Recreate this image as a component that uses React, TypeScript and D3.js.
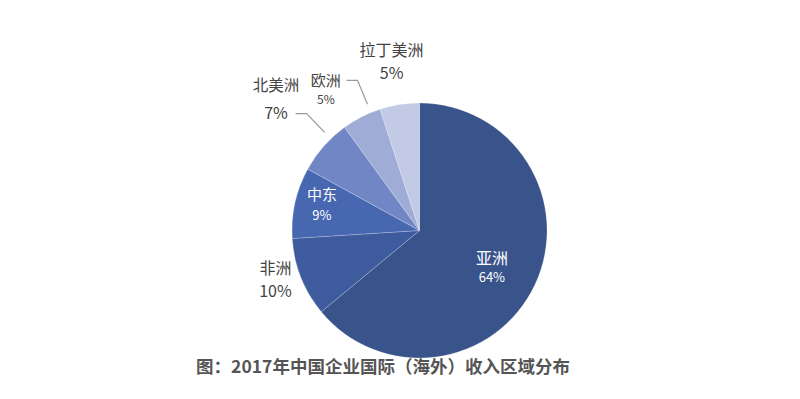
import * as d3 from 'd3';
import React from 'react';

const regions = ['亚洲', '非洲', '中东', '北美洲', '欧洲', '拉丁美洲'];
const shares = [64, 10, 9, 7, 5, 5];
const colors = ['#39538b', '#3e5b9d', '#4767b1', '#7187c5', '#9facd6', '#c3cae6'];

const width = 800;
const height = 399;
const cx = 419.5;
const cy = 230.5;
const radius = 127.5;

// label placement per slice: radius along the mid angle, nudge, fonts
const labelLayout: Record<string, any> = {
  亚洲: { r: 80, dx: 0, dy: 2, fill: '#fff', nameSize: 16, valSize: 13, gap: 20 },
  非洲: { r: 155, dx: 0, dy: -9, fill: '#444', nameSize: 16, valSize: 16, gap: 23 },
  中东: { r: 100, dx: 0, dy: -5, fill: '#fff', nameSize: 15, valSize: 13, gap: 21 },
  北美洲: { r: 190, dx: -1, dy: -7, fill: '#444', nameSize: 15.5, valSize: 16, gap: 28 },
  欧洲: { r: 160, dx: -21, dy: 1, fill: '#444', nameSize: 15, valSize: 12, gap: 19 },
  拉丁美洲: { r: 172, dx: -1, dy: 0, fill: '#444', nameSize: 16, valSize: 16, gap: 23 },
};

const leaders = ['北美洲', '欧洲'];

export default function App() {
  const data = regions.map((name, i) => ({ name, value: shares[i], color: colors[i] }));
  const pie = d3.pie<any>().sort(null).value((d) => d.value);
  const arcs = pie(data);
  const arc = d3.arc<any>().innerRadius(0).outerRadius(radius);

  const polar = (a: number, r: number) => [Math.sin(a) * r, -Math.cos(a) * r];

  return (
    <svg
      width={width}
      height={height}
      style={{ position: 'absolute', left: 0, top: 0, background: '#fff' }}
      fontFamily="'Noto Sans CJK SC', 'Noto Sans', sans-serif"
    >
      <g transform={`translate(${cx},${cy})`}>
        {arcs.map((a) => (
          <path key={a.data.name} d={arc(a) as string} fill={a.data.color} stroke="#ffffff" strokeOpacity={0.35} strokeWidth={0.6} />
        ))}
        {arcs
          .filter((a) => leaders.includes(a.data.name))
          .map((a) => {
            const mid = (a.startAngle + a.endAngle) / 2 + 0.08;
            const p1 = polar(mid, radius + 9);
            const p2 = polar(mid, radius + 35);
            const p3 = [p2[0] - 11, p2[1]];
            return (
              <polyline
                key={a.data.name}
                points={`${p1.join(',')} ${p2.join(',')} ${p3.join(',')}`}
                fill="none"
                stroke="#999"
                strokeWidth={1.2}
              />
            );
          })}
        {arcs.map((a) => {
          const L = labelLayout[a.data.name];
          const mid = (a.startAngle + a.endAngle) / 2;
          const [x, y] = polar(mid, L.r);
          const lx = x + L.dx;
          const ly = y + L.dy;
          return (
            <g key={a.data.name} fill={L.fill} textAnchor="middle" dominantBaseline="central">
              <text x={lx} y={ly - L.gap / 2} fontSize={L.nameSize}>
                {a.data.name}
              </text>
              <text x={lx} y={ly + L.gap / 2} fontSize={L.valSize}>
                {`${a.data.value}%`}
              </text>
            </g>
          );
        })}
      </g>
      <text x={383} y={365} textAnchor="middle" dominantBaseline="central" fontSize={17.5} fontWeight="bold" fill="#555">
        图：2017年中国企业国际（海外）收入区域分布
      </text>
    </svg>
  );
}
